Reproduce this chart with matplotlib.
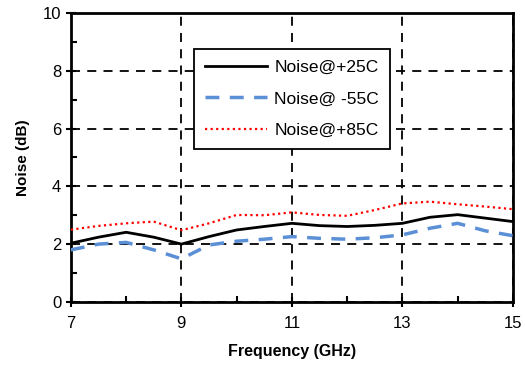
import matplotlib.pyplot as plt
from matplotlib.ticker import FixedLocator, MultipleLocator

plt.rcParams['font.family'] = ['Liberation Sans', 'DejaVu Sans']

freq = [7, 7.5, 8, 8.5, 9, 9.5, 10, 10.5, 11, 11.5, 12, 12.5, 13, 13.5, 14, 14.5, 15]
noise_25 = [2.03, 2.24, 2.41, 2.24, 2.0, 2.26, 2.49, 2.61, 2.72, 2.64, 2.61, 2.65, 2.72, 2.93, 3.02, 2.9, 2.78]
noise_m55 = [1.8, 2.0, 2.06, 1.8, 1.49, 1.97, 2.1, 2.17, 2.26, 2.2, 2.17, 2.22, 2.32, 2.55, 2.72, 2.46, 2.29]
noise_85 = [2.5, 2.63, 2.72, 2.78, 2.48, 2.72, 3.01, 3.0, 3.1, 3.01, 2.98, 3.18, 3.41, 3.47, 3.38, 3.3, 3.21]
x_major = [7, 9, 11, 13, 15]
x_minor = [8, 10, 12, 14]

fig = plt.figure(figsize=(5.25, 3.65), dpi=100)
ax = fig.add_axes([0.135, 0.173, 0.842, 0.791])

ax.plot(freq, noise_25, color='black', lw=2, label='Noise@+25C', zorder=3)
ax.plot(freq, noise_m55, color='#5b8fd6', lw=2.5, ls=(0, (4, 3)), label='Noise@ -55C', zorder=3)
ax.plot(freq, noise_85, color='red', lw=1.6, ls=(0, (1, 1.5)), label='Noise@+85C', zorder=3)

ax.set_xlim(7, 15)
ax.set_ylim(0, 10)
ax.xaxis.set_major_locator(FixedLocator(x_major))
ax.xaxis.set_minor_locator(FixedLocator(x_minor))
ax.yaxis.set_major_locator(MultipleLocator(2))
ax.yaxis.set_minor_locator(MultipleLocator(1))
ax.tick_params(which='major', direction='inout', length=7, width=1.5, labelsize=12)
ax.tick_params(axis='x', which='major', pad=7)
ax.tick_params(which='minor', direction='in', length=4, width=1.5)
ax.grid(True, which='major', color='black', ls=(0, (5, 4)), lw=1.3)

for s in ax.spines.values():
    s.set_linewidth(2)

ax.set_xlabel('Frequency (GHz)', fontsize=11.5, fontweight='bold', labelpad=9)
ax.set_ylabel('Noise (dB)', fontsize=11, fontweight='bold', labelpad=9)

leg = ax.legend(loc='upper left', bbox_to_anchor=(0.26, 0.905), fontsize=12.5,
                handlelength=3.6, frameon=True, fancybox=False, framealpha=1,
                edgecolor='black', borderpad=0.6, labelspacing=0.95, handletextpad=0.4)
leg.get_frame().set_linewidth(1.3)

fig.savefig('out.png')
